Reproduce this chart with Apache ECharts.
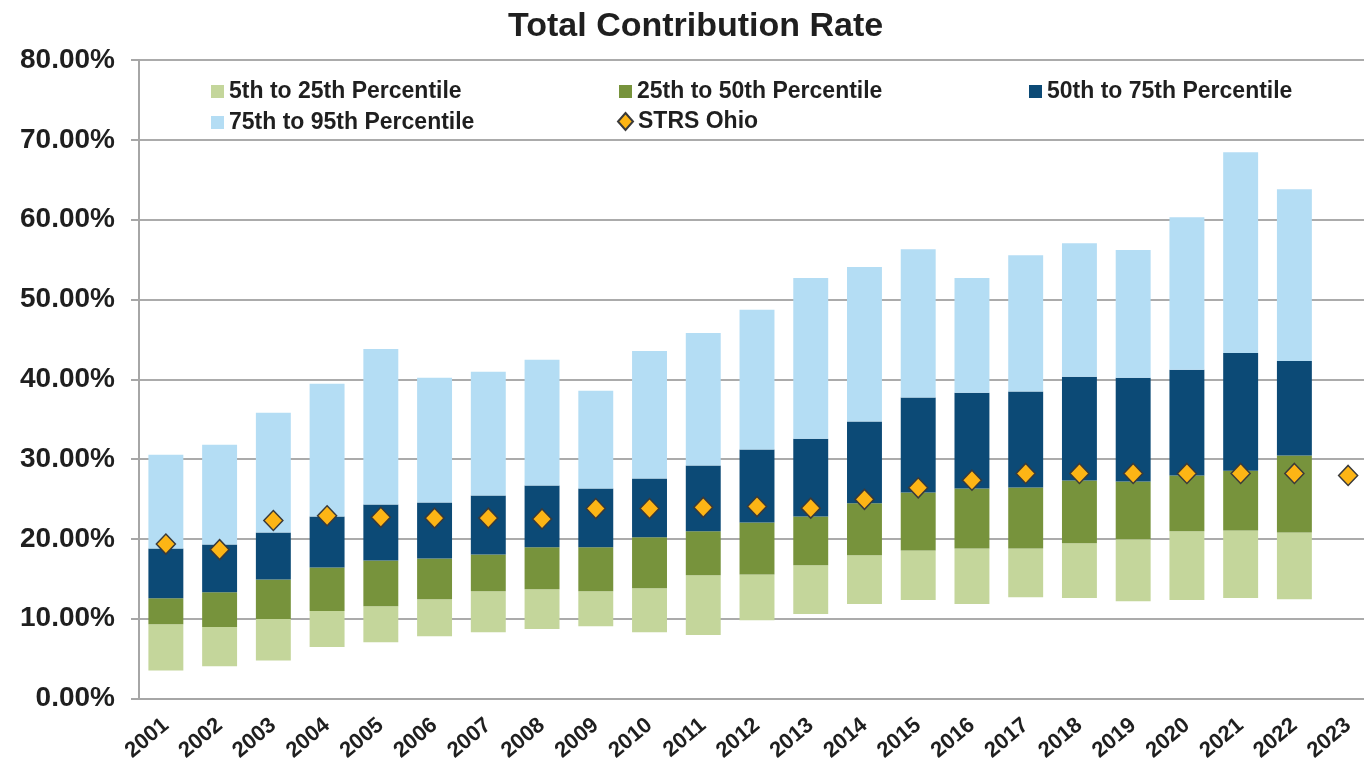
<!DOCTYPE html>
<html>
<head>
<meta charset="utf-8">
<title>Total Contribution Rate</title>
<script src="https://cdn.jsdelivr.net/npm/echarts@6/dist/echarts.min.js"></script>
<style>
  html, body { margin: 0; padding: 0; background: #fff; }
  #main { width: 1364px; height: 767px; }
</style>
</head>
<body>
<div id="main"></div>
<script>
// years on the x axis (2023 has only the STRS Ohio point)
var years = ['2001', '2002', '2003', '2004', '2005', '2006', '2007', '2008', '2009', '2010', '2011', '2012',
  '2013', '2014', '2015', '2016', '2017', '2018', '2019', '2020', '2021', '2022', '2023'];

// percentile boundaries, in percent
var p5 = [3.5, 4.05, 4.75, 6.45, 7.05, 7.8, 8.3, 8.7, 9.05, 8.3, 7.95, 9.8, 10.6, 11.85, 12.35, 11.85, 12.7, 12.6, 12.2, 12.35, 12.6, 12.45];
var p25 = [9.3, 8.95, 9.95, 10.95, 11.55, 12.45, 13.45, 13.7, 13.45, 13.8, 15.45, 15.55, 16.7, 17.95, 18.55, 18.8, 18.8, 19.45, 19.95, 20.95, 21.05, 20.8];
var p50 = [12.55, 13.3, 14.9, 16.4, 17.3, 17.55, 18.05, 18.95, 18.95, 20.2, 20.95, 22.05, 22.8, 24.45, 25.8, 26.3, 26.45, 27.3, 27.2, 27.95, 28.55, 30.45];
var p75 = [18.8, 19.3, 20.8, 22.8, 24.3, 24.55, 25.45, 26.7, 26.3, 27.55, 29.2, 31.2, 32.55, 34.7, 37.7, 38.3, 38.45, 40.3, 40.2, 41.2, 43.3, 42.3];
var p95 = [30.55, 31.8, 35.8, 39.45, 43.8, 40.2, 40.95, 42.45, 38.55, 43.55, 45.8, 48.7, 52.7, 54.05, 56.3, 52.7, 55.55, 57.05, 56.2, 60.3, 68.45, 63.8];

// STRS Ohio rate
var strs = [19.35, 18.65, 22.3, 22.9, 22.7, 22.6, 22.6, 22.5, 23.8, 23.8, 23.95, 24.05, 23.85, 24.95, 26.4, 27.35, 28.2, 28.2, 28.2, 28.2, 28.2, 28.2, 27.95];

var yTicks = { min: 0, max: 80, step: 10 };

var FONT = '"Liberation Sans", Arial, sans-serif';
var TXT = '#1f1f1f';

// segment height between two boundary arrays
function diff(hi, lo) {
  return hi.map(function (v, i) { return +(v - lo[i]).toFixed(2); });
}

var names = ['5th to 25th Percentile', '25th to 50th Percentile', '50th to 75th Percentile', '75th to 95th Percentile', 'STRS Ohio'];
var colors = ['#C4D69B', '#77933C', '#0C4A76', '#B4DDF4', '#FDB515'];

function legendAt(name, left, top, icon) {
  return {
    data: [name], left: left, top: top, padding: 0, icon: icon || 'rect',
    itemWidth: icon ? 15 : 13, itemHeight: icon ? 17 : 13, selectedMode: false,
    textStyle: { fontFamily: FONT, fontSize: 23, fontWeight: 'bold', color: TXT }
  };
}

function segment(i, data) {
  return {
    name: names[i], type: 'bar', stack: 'pct', barWidth: '65%',
    itemStyle: { color: colors[i] }, data: data
  };
}

var chart = echarts.init(document.getElementById('main'));
chart.setOption({
  animation: false,
  title: {
    text: 'Total Contribution Rate', left: 508, top: 10, padding: 0,
    textStyle: { fontFamily: FONT, fontSize: 34, fontWeight: 'bold', color: TXT }
  },
  legend: [
    legendAt(names[0], 211, 80),
    legendAt(names[1], 619, 80),
    legendAt(names[2], 1029, 80),
    legendAt(names[3], 211, 111),
    legendAt(names[4], 617, 110, 'diamond')
  ],
  grid: { left: 139, top: 60, width: 1236, height: 638.5, outerBoundsMode: 'none' },
  xAxis: {
    type: 'category', data: years,
    axisLine: { lineStyle: { color: '#A6A6A6', width: 2 } },
    axisTick: { length: 7, lineStyle: { color: '#A6A6A6', width: 2 } },
    axisLabel: { rotate: 40, margin: 24, fontFamily: FONT, fontSize: 22, fontWeight: 'bold', color: TXT }
  },
  yAxis: {
    type: 'value', min: yTicks.min, max: yTicks.max, interval: yTicks.step,
    axisLine: { show: true, lineStyle: { color: '#A6A6A6', width: 2 } },
    axisTick: { show: true, length: 8, lineStyle: { color: '#A6A6A6', width: 2 } },
    splitLine: { lineStyle: { color: '#ABABAB', width: 2 } },
    axisLabel: {
      margin: 24, fontFamily: FONT, fontSize: 28, fontWeight: 'bold', color: TXT,
      formatter: function (v) { return v.toFixed(2) + '%'; }
    }
  },
  series: [
    { name: 'base', type: 'bar', stack: 'pct', barWidth: '65%', silent: true,
      itemStyle: { color: 'transparent' }, data: p5 },
    segment(0, diff(p25, p5)),
    segment(1, diff(p50, p25)),
    segment(2, diff(p75, p50)),
    segment(3, diff(p95, p75)),
    {
      name: names[4], type: 'scatter', symbol: 'diamond', symbolSize: [19, 20], z: 5,
      itemStyle: { color: colors[4], opacity: 1, borderColor: '#3a3a3a', borderWidth: 1.5 },
      data: strs
    }
  ]
});
</script>
</body>
</html>
